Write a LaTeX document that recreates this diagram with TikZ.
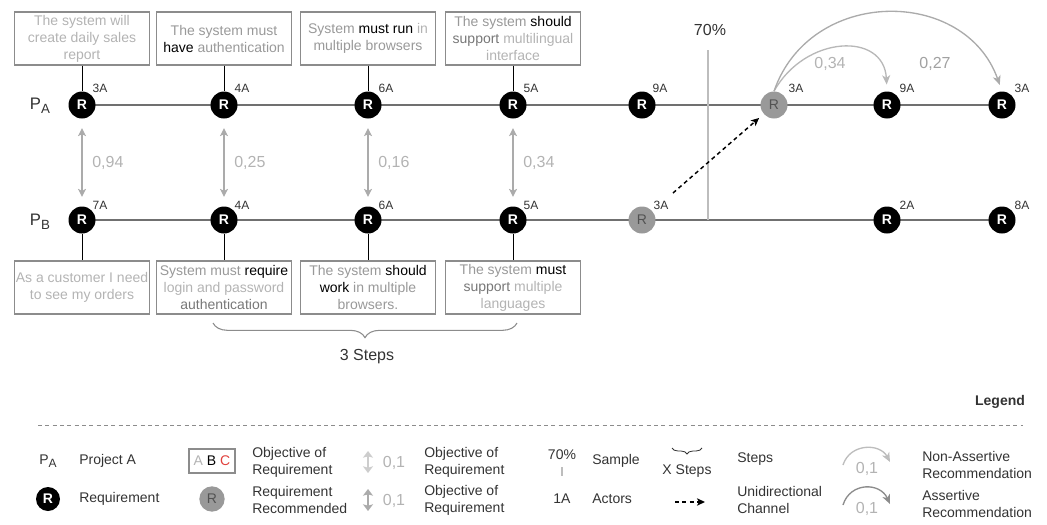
\documentclass[tikz,border=0pt]{standalone}
\usepackage{fontspec}
\setmainfont{Liberation Sans}
\usetikzlibrary{arrows.meta,decorations.pathreplacing,calc,backgrounds}

\definecolor{trackgray}{HTML}{707070}
\definecolor{boxgray}{HTML}{8C8C8C}
\definecolor{softtext}{HTML}{B3B3B3}
\definecolor{midtext}{HTML}{999999}
\definecolor{deeptext}{HTML}{777777}
\definecolor{inktext}{HTML}{333333}
\definecolor{recfill}{HTML}{999999}
\definecolor{simgray}{HTML}{ABABAB}
\definecolor{samplegray}{HTML}{BDBDBD}
\definecolor{letterred}{HTML}{E0403C}

\newcommand{\softc}[1]{\textcolor{softtext}{#1}}
\newcommand{\midc}[1]{\textcolor{midtext}{#1}}
\newcommand{\deepc}[1]{\textcolor{deeptext}{#1}}
\newcommand{\inkc}[1]{\textcolor{black}{#1}}
\newcommand{\boxfont}{\fontsize{10.5}{12.75}\selectfont}
\newcommand{\tagfont}{\fontsize{9}{10.8}\selectfont}
\newcommand{\bigfont}{\fontsize{12}{14.4}\selectfont}

\begin{document}
\begin{tikzpicture}[x=0.75pt,y=-0.75pt,
  req/.style={circle, fill=black, minimum size=20.25pt, inner sep=0pt, text=white, font=\boxfont\bfseries},
  recreq/.style={circle, fill=recfill, minimum size=20.25pt, inner sep=0pt, text=inktext!85, font=\boxfont},
  track/.style={draw=trackgray, line width=1.6pt},
  reqbox/.style={draw=boxgray, line width=0.8pt, minimum width=101.25pt, minimum height=39.75pt,
                 inner sep=0pt, align=center, font=\boxfont, text=softtext},
  stem/.style={draw=black, line width=0.75pt},
  actor/.style={font=\tagfont, text=inktext, inner sep=0pt},
  simarrow/.style={draw=simgray, line width=1.1pt,
                   {Stealth[length=6pt,width=6pt,inset=1.5pt]}-{Stealth[length=6pt,width=6pt,inset=1.5pt]},
                   shorten <=7pt, shorten >=7pt},
  simlabel/.style={font=\bigfont, text=softtext, anchor=west, inner sep=0pt},
  sample/.style={draw=samplegray, line width=1.5pt},
  unichannel/.style={draw=black, line width=1.1pt, dash pattern=on 3pt off 2.5pt,
                     -{Stealth[length=6pt,width=5.5pt,inset=1.5pt]}},
  recarc/.style={line width=1pt, -{Stealth[length=7pt,width=6pt,inset=2pt]}},
  legtext/.style={font=\boxfont, text=inktext, align=left, anchor=west, inner sep=0pt},
  legnum/.style={font=\bigfont, text=softtext, inner sep=0pt},
  legsim/.style={line width=1.8pt,
                 {Stealth[length=5pt,width=7.5pt,inset=1pt]}-{Stealth[length=5pt,width=7.5pt,inset=1pt]}},
]
\useasboundingbox (0,0) rectangle (1047,525);

% ---------- project labels ----------
\node[text=inktext] (pa) at (40,106) {\fontsize{12.5}{14}\selectfont P\raisebox{-3pt}{\fontsize{10}{12}\selectfont A}};
\node[text=inktext] (pb) at (40,222) {\fontsize{12.5}{14}\selectfont P\raisebox{-3pt}{\fontsize{10}{12}\selectfont B}};

% ---------- requirements of project A ----------
\node[req] (a1) at (82,105) {R};
\node[req] (a2) at (224,105) {R};
\node[req] (a3) at (368,105) {R};
\node[req] (a4) at (513,105) {R};
\node[req] (a5) at (642,105) {R};
\node[recreq] (ga) at (774,105) {R};
\node[req] (a7) at (887,105) {R};
\node[req] (a8) at (1002,105) {R};

% ---------- requirements of project B ----------
\node[req] (b1) at (82,220) {R};
\node[req] (b2) at (224,220) {R};
\node[req] (b3) at (368,220) {R};
\node[req] (b4) at (513,220) {R};
\node[recreq] (gb) at (642,220) {R};
\node[req] (b6) at (887,220) {R};
\node[req] (b7) at (1002,220) {R};

\begin{scope}[on background layer]
  \draw[track] (a1.center) -- (a8.center);
  \draw[track] (b1.center) -- (b7.center);
\end{scope}

% ---------- actor counts ----------
\node[actor] (a1n) at ($(a1)+(18,-17)$) {3A};
\node[actor] (a2n) at ($(a2)+(18,-17)$) {4A};
\node[actor] (a3n) at ($(a3)+(18,-17)$) {6A};
\node[actor] (a4n) at ($(a4)+(18,-17)$) {5A};
\node[actor] (a5n) at ($(a5)+(18,-17)$) {9A};
\node[actor] (gan) at ($(ga)+(22,-17)$) {3A};
\node[actor] (a7n) at ($(a7)+(20,-17)$) {9A};
\node[actor] (a8n) at ($(a8)+(20,-17)$) {3A};
\node[actor] (b1n) at ($(b1)+(18,-15)$) {7A};
\node[actor] (b2n) at ($(b2)+(18,-15)$) {4A};
\node[actor] (b3n) at ($(b3)+(18,-15)$) {6A};
\node[actor] (b4n) at ($(b4)+(18,-15)$) {5A};
\node[actor] (gbn) at ($(gb)+(19,-15)$) {3A};
\node[actor] (b6n) at ($(b6)+(20,-15)$) {2A};
\node[actor] (b7n) at ($(b7)+(20,-15)$) {8A};

% ---------- requirement texts, project A ----------
\node[reqbox] (ta1) at (82,38.5) {The system will\\create daily sales\\report};
\node[reqbox] (ta2) at (224,38.5) {\midc{The system must}\\\inkc{have} \midc{authentication}};
\node[reqbox] (ta3) at (368,38.5) {\midc{System} \inkc{must run} \softc{in}\\\midc{multiple browsers}};
\node[reqbox] (ta4) at (513,38.5) {\midc{The system} \inkc{should}\\\deepc{support} multilingual\\interface};
\draw[stem] (ta1) -- (a1);
\draw[stem] (ta2) -- (a2);
\draw[stem] (ta3) -- (a3);
\draw[stem] (ta4) -- (a4);

% ---------- requirement texts, project B ----------
\node[reqbox] (tb1) at (82,287.5) {As a customer I need\\to see my orders};
\node[reqbox] (tb2) at (224,287.5) {\midc{System must} \inkc{require}\\login and password\\\deepc{authentication}};
\node[reqbox] (tb3) at (368,287.5) {\midc{The system} \inkc{should}\\\inkc{work} \midc{in multiple}\\\midc{browsers.}};
\node[reqbox] (tb4) at (513,287.5) {\midc{The system} \inkc{must}\\\deepc{support} multiple\\languages};
\draw[stem] (b1) -- (tb1);
\draw[stem] (b2) -- (tb2);
\draw[stem] (b3) -- (tb3);
\draw[stem] (b4) -- (tb4);

% ---------- similarity between paired requirements ----------
\draw[simarrow] (a1) -- (b1);
\draw[simarrow] (a2) -- (b2);
\draw[simarrow] (a3) -- (b3);
\draw[simarrow] (a4) -- (b4);
\node[simlabel] (s1) at ($(a1)!0.5!(b1)+(10,0)$) {0,94};
\node[simlabel] (s2) at ($(a2)!0.5!(b2)+(10,0)$) {0,25};
\node[simlabel] (s3) at ($(a3)!0.5!(b3)+(10,0)$) {0,16};
\node[simlabel] (s4) at ($(a4)!0.5!(b4)+(10,0)$) {0,34};

% ---------- three steps ----------
\coordinate (brL) at (213,323);
\coordinate (brR) at (517,323);
\draw[draw=boxgray, line width=0.8pt, decorate, decoration={brace, mirror, amplitude=11pt}] (brL) -- (brR);
\node[font=\bigfont, text=inktext] (steps) at (367,357) {3 Steps};

% ---------- sample line ----------
\coordinate (smtop) at (708,50);
\draw[sample] (smtop) -- (smtop |- b1);
\node[font=\bigfont, text=inktext] (smlabel) at (710,30) {70\%};

% ---------- recommendation channel ----------
\draw[unichannel, shorten <=20.5pt, shorten >=4.5pt] (gb) -- (ga);

% ---------- recommendations ----------
\draw[recarc, draw=simgray!85, shorten >=5pt] (ga.north) .. controls +(31,-56) and +(-3,-60) .. (a7.north);
\draw[recarc, draw=simgray, shorten >=5pt] (ga.north) .. controls +(36,-104.5) and +(-37,-104.5) .. (a8.north);
\node[font=\bigfont, text=softtext] (r1) at (830,64) {0,34};
\node[font=\bigfont, text=softtext!90!black] (r2) at (935,64) {0,27};

% ---------- legend ----------
\node[font=\boxfont\bfseries, text=inktext] (legtitle) at (1000,402) {Legend};
\coordinate (dl) at (38,425);
\coordinate (dr) at (1023,425);
\draw[draw=boxgray, line width=0.75pt, dash pattern=on 3pt off 2.5pt] (dl) -- (dr);

\node[text=inktext] (lgp) at (48,461) {\fontsize{10.5}{12}\selectfont P\raisebox{-2.5pt}{\fontsize{9}{10}\selectfont A}};
\node[legtext] (lgpt) at (79,461) {Project A};
\node[req, minimum size=18pt] (lgr) at (48,499) {R};
\node[legtext] (lgrt) at (79,499) {Requirement};

\node[draw=boxgray, line width=0.8pt, minimum width=34.5pt, minimum height=18pt, inner sep=0pt, font=\boxfont]
  (lgbox) at (212,461) {\softc{A} \inkc{B} \textcolor{letterred}{C}};
\node[legtext] (lgboxt) at (252,462) {Objective of\\Requirement};
\node[recreq, minimum size=19pt] (lgrec) at (212,499) {R};
\node[legtext] (lgrect) at (252,500) {Requirement\\Recommended};

\coordinate (da1t) at (368,451);
\coordinate (da1b) at (368,473);
\draw[legsim, draw=simgray!60] (da1t) -- (da1b);
\node[legnum] (lgs1) at (394,463) {0,1};
\node[legtext] (lgs1t) at (424,462) {Objective of\\Requirement};
\coordinate (da2t) at (368,489);
\coordinate (da2b) at (368,511);
\draw[legsim, draw=simgray] (da2t) -- (da2b);
\node[legnum] (lgs2) at (394,501) {0,1};
\node[legtext] (lgs2t) at (424,500) {Objective of\\Requirement};

\node[font=\boxfont, text=inktext] (lg70) at (562,455) {70\%};
\coordinate (tickt) at (562,467);
\coordinate (tickb) at (562,476);
\draw[sample, line width=1.2pt] (tickt) -- (tickb);
\node[legtext] (lgsample) at (592,461) {Sample};
\node[font=\boxfont, text=inktext] (lg1a) at (562,499) {1A};
\node[legtext] (lgactors) at (592,499) {Actors};

\coordinate (lbrL) at (672,448);
\coordinate (lbrR) at (702,448);
\draw[draw=inktext, line width=0.6pt, decorate, decoration={brace, mirror, amplitude=4.5pt}] (lbrL) -- (lbrR);
\node[font=\boxfont, text=inktext] (lgxs) at (687,471) {X Steps};
\node[legtext] (lgsteps) at (737,459) {Steps};
\coordinate (luL) at (675,502);
\coordinate (luR) at (705,502);
\draw[unichannel] (luL) -- (luR);
\node[legtext] (lguni) at (737,500) {Unidirectional\\Channel};

\coordinate (la1s) at (843,465);
\coordinate (la1e) at (890,462);
\draw[recarc, draw=samplegray] (la1s) .. controls (850,443) and (880,443) .. (la1e);
\node[legnum] (lgn1) at (867,469) {0,1};
\coordinate (la2s) at (843,505);
\coordinate (la2e) at (890,504);
\draw[recarc, draw=boxgray] (la2s) .. controls (850,482) and (880,482) .. (la2e);
\node[legnum] (lgn2) at (867,509) {0,1};
\node[legtext] (lgna) at (922,465) {Non-Assertive\\Recommendation};
\node[legtext] (lga) at (922,504) {Assertive\\Recommendation};
\end{tikzpicture}
\end{document}
